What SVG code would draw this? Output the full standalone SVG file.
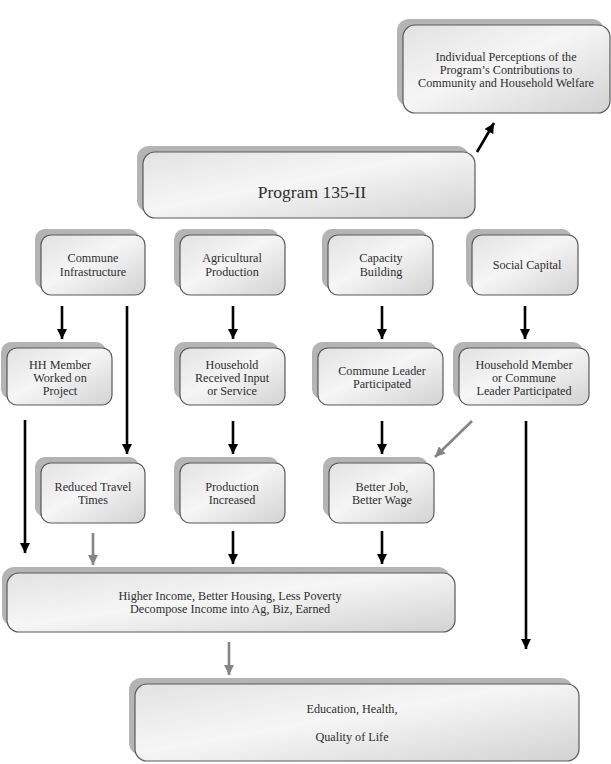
<svg xmlns="http://www.w3.org/2000/svg" width="611" height="764" viewBox="0 0 611 764">
<style>
.sh{fill:#b4b4b4;}
.bx{fill:url(#g);stroke:#5a5a5a;stroke-width:1.2;}
text{font-family:"Liberation Serif","Times New Roman",serif;font-size:12.2px;fill:#2e2e2e;text-anchor:middle;}
.big{font-size:17.5px;}
.k{stroke:#000;stroke-width:2.6;fill:none;marker-end:url(#ak);}
.y{stroke:#858585;stroke-width:2.6;fill:none;marker-end:url(#ay);}
</style>
<defs>
<linearGradient id="g" x1="0" y1="0" x2="1" y2="1">
<stop offset="0" stop-color="#e2e2e2"/>
<stop offset="0.45" stop-color="#f6f6f6"/>
<stop offset="1" stop-color="#d2d2d2"/>
</linearGradient>
<marker id="ak" viewBox="0 0 10 10" refX="10" refY="5" markerWidth="10" markerHeight="10" markerUnits="userSpaceOnUse" orient="auto"><path d="M0,0L10,5L0,10z" fill="#000"/></marker>
<marker id="ay" viewBox="0 0 10 10" refX="10" refY="5" markerWidth="10" markerHeight="10" markerUnits="userSpaceOnUse" orient="auto"><path d="M0,0L10,5L0,10z" fill="#858585"/></marker>
</defs>
<rect width="611" height="764" fill="#fff"/>
<g id="connectors">
<line class="k" x1="477" y1="152" x2="494" y2="123"/>
<line class="k" x1="62" y1="306" x2="62" y2="339"/>
<line class="k" x1="233" y1="306" x2="233" y2="339"/>
<line class="k" x1="382" y1="306" x2="382" y2="339"/>
<line class="k" x1="525" y1="306" x2="525" y2="339"/>
<line class="k" x1="127" y1="306" x2="127" y2="454"/>
<line class="k" x1="25" y1="420" x2="25" y2="553"/>
<line class="k" x1="233" y1="421" x2="233" y2="454"/>
<line class="k" x1="382" y1="421" x2="382" y2="454"/>
<line class="y" x1="472" y1="421" x2="435" y2="457"/>
<line class="k" x1="526" y1="421" x2="526" y2="649"/>
<line class="y" x1="93" y1="533" x2="93" y2="565"/>
<line class="k" x1="233" y1="531" x2="233" y2="564"/>
<line class="k" x1="382" y1="531" x2="382" y2="564"/>
<line class="y" x1="229" y1="642" x2="229" y2="675"/>
</g>
<g id="perceptions">
<rect class="sh" x="397" y="19" width="207" height="87" rx="12"/>
<rect class="bx" x="403" y="25" width="207" height="88" rx="12"/>
<text x="506" y="61">Individual Perceptions of the</text>
<text x="506" y="74">Program’s Contributions to</text>
<text x="506" y="87">Community and Household Welfare</text>
</g>
<g id="program">
<rect class="sh" x="137" y="146" width="332" height="66" rx="12"/>
<rect class="bx" x="143" y="152" width="332" height="66" rx="12"/>
<text class="big" x="312" y="198">Program 135-II</text>
</g>
<g id="commune-infrastructure">
<rect class="sh" x="35" y="229" width="104" height="60" rx="10"/>
<rect class="bx" x="41" y="235" width="104" height="60" rx="10"/>
<text x="93" y="262">Commune</text>
<text x="93" y="276">Infrastructure</text>
</g>
<g id="agricultural-production">
<rect class="sh" x="174" y="229" width="105" height="60" rx="10"/>
<rect class="bx" x="180" y="235" width="105" height="60" rx="10"/>
<text x="232" y="262">Agricultural</text>
<text x="232" y="276">Production</text>
</g>
<g id="capacity-building">
<rect class="sh" x="322" y="229" width="105" height="60" rx="10"/>
<rect class="bx" x="328" y="235" width="105" height="60" rx="10"/>
<text x="381" y="262">Capacity</text>
<text x="381" y="276">Building</text>
</g>
<g id="social-capital">
<rect class="sh" x="466" y="229" width="106" height="60" rx="10"/>
<rect class="bx" x="472" y="235" width="106" height="60" rx="10"/>
<text x="527" y="269">Social Capital</text>
</g>
<g id="hh-member">
<rect class="sh" x="1" y="342" width="105" height="57" rx="10"/>
<rect class="bx" x="7" y="348" width="105" height="57" rx="10"/>
<text x="60" y="369">HH Member</text>
<text x="60" y="382">Worked on</text>
<text x="60" y="395">Project</text>
</g>
<g id="household-received">
<rect class="sh" x="174" y="342" width="105" height="57" rx="10"/>
<rect class="bx" x="180" y="348" width="105" height="57" rx="10"/>
<text x="232" y="369">Household</text>
<text x="232" y="382">Received Input</text>
<text x="232" y="395">or Service</text>
</g>
<g id="commune-leader">
<rect class="sh" x="312" y="342" width="125" height="57" rx="10"/>
<rect class="bx" x="318" y="348" width="125" height="57" rx="10"/>
<text x="382" y="375">Commune Leader</text>
<text x="382" y="388">Participated</text>
</g>
<g id="household-member-leader">
<rect class="sh" x="453" y="342" width="130" height="57" rx="10"/>
<rect class="bx" x="459" y="348" width="130" height="57" rx="10"/>
<text x="524" y="369">Household Member</text>
<text x="524" y="382">or Commune</text>
<text x="524" y="395">Leader Participated</text>
</g>
<g id="reduced-travel">
<rect class="sh" x="35" y="457" width="104" height="60" rx="10"/>
<rect class="bx" x="41" y="463" width="104" height="60" rx="10"/>
<text x="93" y="491">Reduced Travel</text>
<text x="93" y="504">Times</text>
</g>
<g id="production-increased">
<rect class="sh" x="174" y="457" width="105" height="60" rx="10"/>
<rect class="bx" x="180" y="463" width="105" height="60" rx="10"/>
<text x="232" y="491">Production</text>
<text x="232" y="504">Increased</text>
</g>
<g id="better-job">
<rect class="sh" x="323" y="457" width="105" height="60" rx="10"/>
<rect class="bx" x="329" y="463" width="105" height="60" rx="10"/>
<text x="382" y="491">Better Job,</text>
<text x="382" y="504">Better Wage</text>
</g>
<g id="income">
<rect class="sh" x="2" y="567" width="448" height="59" rx="12"/>
<rect class="bx" x="7" y="573" width="448" height="59" rx="12"/>
<text x="230" y="600">Higher Income, Better Housing, Less Poverty</text>
<text x="230" y="613">Decompose Income into Ag, Biz, Earned</text>
</g>
<g id="education">
<rect class="sh" x="129" y="678" width="444" height="77" rx="12"/>
<rect class="bx" x="135" y="684" width="444" height="77" rx="12"/>
<text x="352" y="713">Education, Health,</text>
<text x="352" y="741">Quality of Life</text>
</g>
</svg>
